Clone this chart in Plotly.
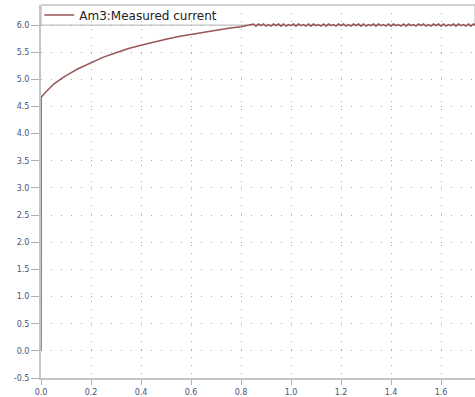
import plotly.graph_objects as go

# Time (s) and measured current (A)
time_rise = [0.0, 0.0005, 0.01, 0.03, 0.05, 0.08, 0.1, 0.15, 0.2, 0.25, 0.3, 0.35,
             0.4, 0.45, 0.5, 0.55, 0.6, 0.65, 0.7, 0.75, 0.8, 0.84]
current_rise = [0.0, 4.67, 4.72, 4.82, 4.91, 5.01, 5.07, 5.2, 5.31, 5.41, 5.49, 5.57,
                5.63, 5.69, 5.74, 5.79, 5.83, 5.87, 5.91, 5.94, 5.97, 6.0]

time_flat = [0.85, 0.86, 0.87, 0.88, 0.89, 0.90, 0.91, 0.92, 0.93, 0.94, 0.95, 0.96,
             0.97, 0.98, 0.99, 1.00, 1.01, 1.02, 1.03, 1.04, 1.05, 1.06, 1.07, 1.08,
             1.09, 1.10, 1.11, 1.12, 1.13, 1.14, 1.15, 1.16, 1.17, 1.18, 1.19, 1.20,
             1.21, 1.22, 1.23, 1.24, 1.25, 1.26, 1.27, 1.28, 1.29, 1.30, 1.31, 1.32,
             1.33, 1.34, 1.35, 1.36, 1.37, 1.38, 1.39, 1.40, 1.41, 1.42, 1.43, 1.44,
             1.45, 1.46, 1.47, 1.48, 1.49, 1.50, 1.51, 1.52, 1.53, 1.54, 1.55, 1.56,
             1.57, 1.58, 1.59, 1.60, 1.61, 1.62, 1.63, 1.64, 1.65, 1.66, 1.67, 1.68,
             1.69, 1.70, 1.71, 1.72, 1.73, 1.74]
current_flat = [6.02, 5.98, 6.02, 5.99, 6.02, 5.98, 6.01, 5.98, 6.02, 5.99, 6.02, 5.98,
                6.02, 5.98, 6.01, 5.99, 6.02, 5.98, 6.02, 5.99, 6.01, 5.98, 6.02, 5.98,
                6.02, 5.99, 6.01, 5.98, 6.02, 5.98, 6.02, 5.99, 6.01, 5.98, 6.02, 5.99,
                6.02, 5.98, 6.01, 5.98, 6.02, 5.99, 6.02, 5.98, 6.02, 5.98, 6.01, 5.99,
                6.02, 5.98, 6.02, 5.99, 6.01, 5.98, 6.02, 5.98, 6.02, 5.99, 6.01, 5.98,
                6.02, 5.98, 6.02, 5.99, 6.01, 5.98, 6.02, 5.99, 6.02, 5.98, 6.01, 5.98,
                6.02, 5.99, 6.02, 5.98, 6.02, 5.98, 6.01, 5.99, 6.02, 5.98, 6.02, 5.99,
                6.01, 5.98, 6.02, 5.98, 6.02, 5.99]

x_ticks = [0.0, 0.2, 0.4, 0.6, 0.8, 1.0, 1.2, 1.4, 1.6]
y_ticks = [-0.5, 0.0, 0.5, 1.0, 1.5, 2.0, 2.5, 3.0, 3.5, 4.0, 4.5, 5.0, 5.5, 6.0]
series_name = "Am3:Measured current"

time_all = time_rise + time_flat
current_all = current_rise + current_flat

fig = go.Figure()
fig.add_trace(go.Scatter(
    x=time_all, y=current_all, mode="lines", name=series_name,
    line=dict(color="#985555", width=1.5),
))

fig.add_shape(type="rect", xref="paper", yref="y", x0=0, x1=1, y0=6.0, y1=6.37,
              fillcolor="white", line=dict(color="#b0b0b0", width=1), layer="between")
fig.add_shape(type="line", xref="paper", yref="paper", x0=0, x1=1, y0=1, y1=1,
              line=dict(color="#cfcfcf", width=2))

tickfont = dict(family="DejaVu Sans", size=8, color="#4a5478")
fig.update_xaxes(
    range=[0, 1.736], tickvals=x_ticks, ticktext=[f"{v:.1f}" for v in x_ticks],
    showgrid=True, gridcolor="#a8a8a8", gridwidth=1, griddash="1px,7px",
    showline=True, linecolor="#c4c4c4", linewidth=2,
    ticks="outside", ticklen=5, tickcolor="#b0b0b0", tickfont=tickfont,
    zeroline=False,
)
fig.update_yaxes(
    range=[-0.5, 6.37], tickvals=y_ticks, ticktext=[f"{v:.1f}" for v in y_ticks],
    showgrid=True, gridcolor="#a8a8a8", gridwidth=1, griddash="1px,9px",
    showline=True, linecolor="#c4c4c4", linewidth=2,
    ticks="outside", ticklen=8, tickcolor="#b0b0b0", tickfont=tickfont,
    zeroline=False,
)
fig.update_layout(
    width=475, height=397,
    margin=dict(l=41, r=0, t=5, b=17),
    paper_bgcolor="white", plot_bgcolor="white",
    showlegend=True,
    legend=dict(x=-0.004, y=0.973, xanchor="left", yanchor="middle",
                bgcolor="rgba(0,0,0,0)", borderwidth=0,
                font=dict(family="DejaVu Sans", size=12, color="#222222"),
                itemwidth=30, tracegroupgap=0),
)
fig.write_html("out.html", config={"displayModeBar": False},
               post_script="document.body.style.margin='0';")
